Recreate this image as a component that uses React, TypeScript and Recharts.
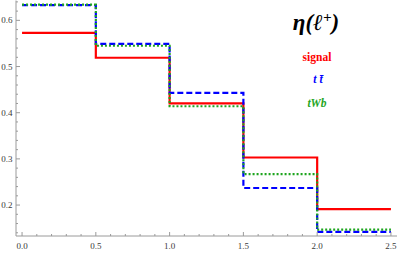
import { Line, LineChart, XAxis, YAxis } from "recharts"

const binEdges = [0, 0.5, 1, 1.5, 2, 2.5]
const signal = [0.573, 0.519, 0.42, 0.303, 0.191]
const ttbar = [0.633, 0.549, 0.443, 0.237, 0.142]
const tWb = [0.634, 0.545, 0.414, 0.267, 0.147]

const xMajor = [0, 0.5, 1, 1.5, 2, 2.5]
const xMinor = [0.1, 0.2, 0.3, 0.4, 0.6, 0.7, 0.8, 0.9, 1.1, 1.2, 1.3, 1.4, 1.6, 1.7, 1.8, 1.9, 2.1, 2.2, 2.3, 2.4]
const yMajor = [0.2, 0.3, 0.4, 0.5, 0.6]
const yMinor = [0.14, 0.16, 0.18, 0.22, 0.24, 0.26, 0.28, 0.32, 0.34, 0.36, 0.38, 0.42, 0.44, 0.46, 0.48, 0.52, 0.54, 0.56, 0.58, 0.62, 0.64]

const xDomain = [-0.041, 2.541]
const yDomain = [0.133, 0.643]

const last = binEdges.length - 2
const data = binEdges.map((x, i) => ({
  x,
  signal: signal[Math.min(i, last)],
  ttbar: ttbar[Math.min(i, last)],
  tWb: tWb[Math.min(i, last)],
}))

const xTicks = [...xMajor, ...xMinor].sort((a, b) => a - b)
const yTicks = [...yMajor, ...yMinor].sort((a, b) => a - b)

const frame = "#9a9a9a"
const labelColor = "#3a3a3a"
const serif = "'Liberation Serif', 'DejaVu Serif', serif"

// ticks point inward like a Mathematica frame; only majors get a label
const makeTick = (side: "left" | "bottom" | "top" | "right", majors: number[]) => (props: any) => {
  const { x, y, payload } = props
  const major = majors.some(m => Math.abs(m - payload.value) < 1e-9)
  const len = major ? 4 : 2
  let line
  if (side === "left") line = <line x1={x} x2={x + len} y1={y} y2={y} stroke={frame} />
  else if (side === "right") line = <line x1={x} x2={x - len} y1={y} y2={y} stroke={frame} />
  else if (side === "bottom") line = <line x1={x} x2={x} y1={y} y2={y - len} stroke={frame} />
  else line = <line x1={x} x2={x} y1={y} y2={y + len} stroke={frame} />
  return (
    <g>
      {line}
      {major && side === "left" && (
        <text x={x - 3.5} y={y} dy="0.33em" textAnchor="end" fontSize={9} fontFamily={serif} fill={labelColor}>
          {payload.value.toFixed(1)}
        </text>
      )}
      {major && side === "bottom" && (
        <text x={x} y={y + 10.5} dy="0.33em" textAnchor="middle" fontSize={9} fontFamily={serif} fill={labelColor}>
          {payload.value.toFixed(1)}
        </text>
      )}
    </g>
  )
}

const legendItem = (top: number, left: number, color: string, size: number, italic: boolean) => ({
  position: "absolute" as const,
  top,
  left,
  transform: "translate(-50%, -50%)",
  color,
  fontSize: size,
  fontWeight: "bold" as const,
  fontStyle: italic ? "italic" : "normal",
  fontFamily: serif,
  whiteSpace: "nowrap" as const,
  lineHeight: 1,
})

function App() {
  return (
    <div style={{ position: "absolute", left: 0, top: 0, width: 399, height: 253, background: "#fff" }}>
      <LineChart width={399} height={253} data={data} margin={{ top: 0.5, right: 2, bottom: 0, left: 0 }}>
        <XAxis
          dataKey="x"
          type="number"
          domain={xDomain}
          ticks={xTicks}
          interval={0}
          height={17}
          tickSize={0}
          tickMargin={0}
          axisLine={{ stroke: frame }}
          tick={makeTick("bottom", xMajor)}
          allowDataOverflow
        />
        <XAxis
          xAxisId="top"
          orientation="top"
          dataKey="x"
          type="number"
          domain={xDomain}
          ticks={xTicks}
          interval={0}
          height={0}
          tickSize={0}
          tickMargin={0}
          axisLine={{ stroke: frame }}
          tick={makeTick("top", xMajor)}
          allowDataOverflow
        />
        <YAxis
          type="number"
          domain={yDomain}
          ticks={yTicks}
          interval={0}
          width={16}
          tickSize={0}
          tickMargin={0}
          axisLine={{ stroke: frame }}
          tick={makeTick("left", yMajor)}
          allowDataOverflow
        />
        <YAxis
          yAxisId="right"
          orientation="right"
          type="number"
          domain={yDomain}
          ticks={yTicks}
          interval={0}
          width={0}
          tickSize={0}
          tickMargin={0}
          axisLine={{ stroke: frame }}
          tick={makeTick("right", yMajor)}
          allowDataOverflow
        />
        <Line type="stepAfter" dataKey="signal" stroke="#ff0000" strokeWidth={2.2} dot={false} isAnimationActive={false} />
        <Line type="stepAfter" dataKey="ttbar" stroke="#0000ff" strokeWidth={2.2} strokeDasharray="6 3" dot={false} isAnimationActive={false} />
        <Line type="stepAfter" dataKey="tWb" stroke="#1ea51e" strokeWidth={2.2} strokeDasharray="2 2" dot={false} isAnimationActive={false} />
      </LineChart>
      <div style={legendItem(22, 316, "#000", 23, true)}>η(ℓ<sup style={{ fontSize: 15 }}>+</sup>)</div>
      <div style={legendItem(58, 317, "#ff0000", 11.5, false)}>signal</div>
      <div style={legendItem(80, 318, "#0000ff", 11.5, true)}>t t̄</div>
      <div style={legendItem(104, 317, "#1ea51e", 11.5, true)}>tWb</div>
    </div>
  )
}

export default App
